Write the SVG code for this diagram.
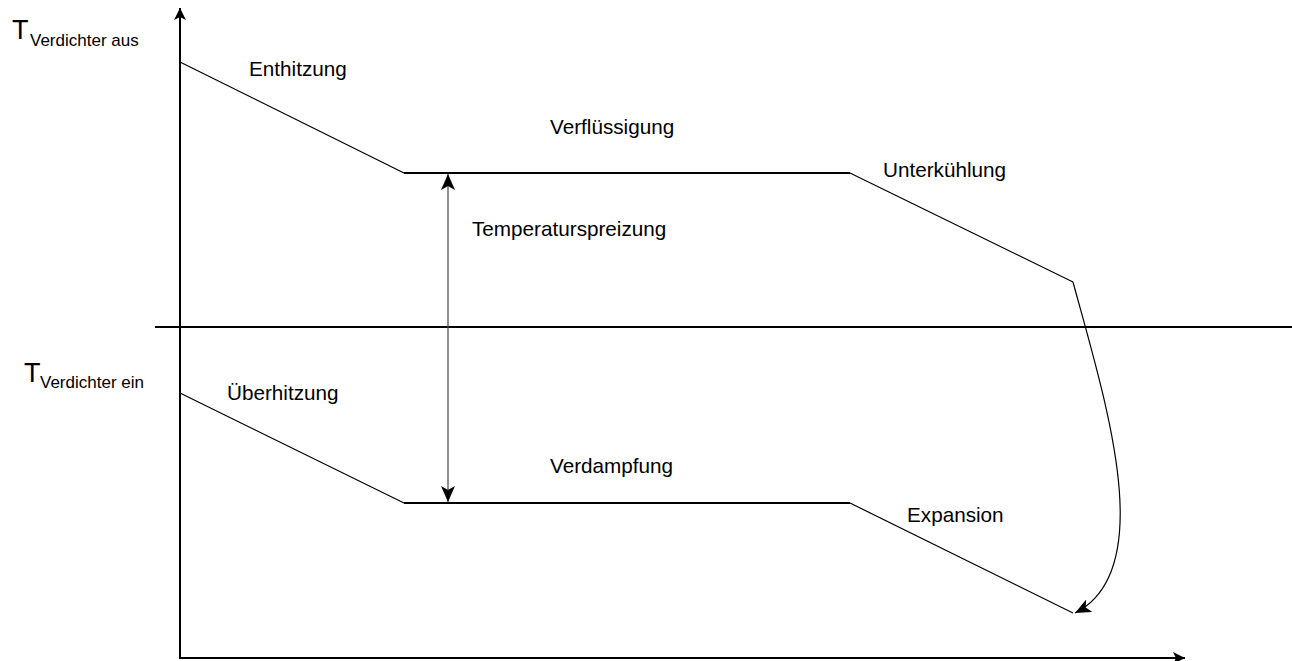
<svg xmlns="http://www.w3.org/2000/svg" width="1292" height="661" viewBox="0 0 1292 661">
<style>
text{font-family:"Liberation Sans",Arial,sans-serif;fill:#000}
.lbl{font-size:20.7px}
.big{font-size:27px}
.sub{font-size:17px}
.thin{fill:none;stroke:#000;stroke-width:1.2}
.thick{fill:none;stroke:#000;stroke-width:2}
</style>
<defs>
<marker id="ah" viewBox="0 0 12 12" refX="12" refY="6" markerWidth="12" markerHeight="12" markerUnits="userSpaceOnUse" orient="auto-start-reverse">
<path d="M0,0 L12,6 L0,12 L3,6 Z" fill="#000"/>
</marker>
<marker id="ah2" viewBox="0 0 16 14" refX="16" refY="7" markerWidth="16" markerHeight="14" markerUnits="userSpaceOnUse" orient="auto-start-reverse">
<path d="M0,0 L16,7 L0,14 L4,7 Z" fill="#000"/>
</marker>
</defs>
<g id="axes">
<line class="thick" x1="180" y1="659" x2="180" y2="8" marker-end="url(#ah)"/>
<line class="thick" x1="179" y1="658" x2="1185" y2="658" marker-end="url(#ah)"/>
<line class="thick" x1="155" y1="327" x2="1292" y2="327"/>
</g>
<g id="connectors">
<polyline class="thin" points="180,62 404,173"/>
<line class="thick" x1="404" y1="173" x2="850" y2="173"/>
<polyline class="thin" points="850,173 1073,282"/>
<path class="thin" d="M1073,282 C1105,400 1160,570 1075,613" marker-end="url(#ah2)"/>
<polyline class="thin" points="180,393 404,503"/>
<line class="thick" x1="404" y1="503" x2="850" y2="503"/>
<polyline class="thin" points="850,503 1073,613"/>
<line x1="448" y1="174" x2="448" y2="502" stroke="#444" stroke-width="1.2" marker-start="url(#ah2)" marker-end="url(#ah2)"/>
</g>
<g id="label-t-aus"><text class="big" x="12" y="39">T</text><text class="sub" x="30" y="46">Verdichter aus</text></g>
<g id="label-t-ein"><text class="big" x="24" y="382">T</text><text class="sub" x="40" y="388">Verdichter ein</text></g>
<g id="label-enthitzung"><text class="lbl" x="249" y="76">Enthitzung</text></g>
<g id="label-verfluessigung"><text class="lbl" x="550" y="134">Verflüssigung</text></g>
<g id="label-unterkuehlung"><text class="lbl" x="883" y="177">Unterkühlung</text></g>
<g id="label-temperaturspreizung"><text class="lbl" x="472" y="236">Temperaturspreizung</text></g>
<g id="label-ueberhitzung"><text class="lbl" x="227" y="400">Überhitzung</text></g>
<g id="label-verdampfung"><text class="lbl" x="550" y="473">Verdampfung</text></g>
<g id="label-expansion"><text class="lbl" x="907" y="522">Expansion</text></g>
</svg>
